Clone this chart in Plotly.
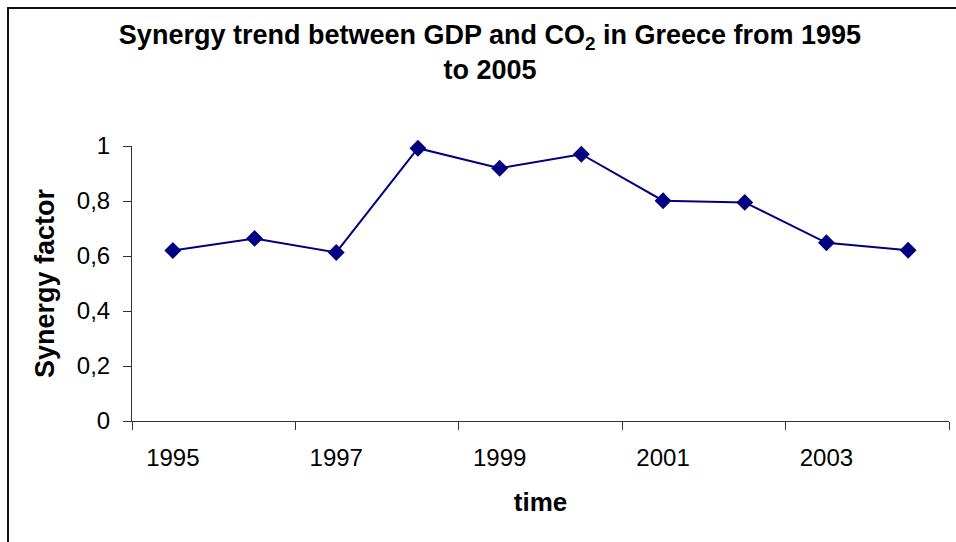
import plotly.graph_objects as go

# Synergy factor between GDP and CO2 emissions, Greece
years = ["1995", "1996", "1997", "1998", "1999", "2000", "2001", "2002", "2003", "2004"]
synergy = [0.62, 0.664, 0.613, 0.992, 0.919, 0.970, 0.801, 0.795, 0.648, 0.621]
year_labels = ["1995", "1997", "1999", "2001", "2003"]
y_ticks = [0, 0.2, 0.4, 0.6, 0.8, 1]
y_tick_text = ["0", "0,2", "0,4", "0,6", "0,8", "1"]

FONT = "Liberation Sans, Arial, sans-serif"
NAVY = "#000080"
AXIS = "#333333"

W, H = 956, 542
ML, MR, MT, MB = 132, 7, 146, 121
PW, PH = W - ML - MR, H - MT - MB

idx = list(range(len(years)))
label_pos = [years.index(y) for y in year_labels]
# category boundaries carrying tick marks, every second category
boundaries = [i - 0.5 for i in range(0, len(years) + 1, 2)]


def px_x(px):
    return (px - ML) / PW


def px_y(py):
    return (H - MB - py) / PH


fig = go.Figure()
fig.add_trace(go.Scatter(
    x=idx, y=synergy, mode="lines+markers",
    line=dict(color=NAVY, width=2),
    marker=dict(symbol="diamond", size=13, color=NAVY),
    hovertext=years, showlegend=False, cliponaxis=False,
))
# invisible trace that carries the year labels axis
fig.add_trace(go.Scatter(x=[idx[0], idx[-1]], y=[None, None], xaxis="x2",
                         showlegend=False, hoverinfo="skip"))

xr = [-0.5, len(years) - 0.5]
fig.update_layout(
    width=W, height=H,
    margin=dict(l=ML, r=MR, t=MT, b=MB),
    paper_bgcolor="white", plot_bgcolor="white",
    font=dict(family=FONT, color="black"),
    title=dict(
        text="<b>Synergy trend between GDP and CO<sub>2</sub> in Greece from 1995<br>to 2005</b>",
        x=490 / W, xanchor="center", y=1 - 44 / H, yanchor="middle",
        font=dict(size=27, family=FONT, color="black"),
    ),
    xaxis=dict(
        range=xr, tickmode="array", tickvals=boundaries, showticklabels=False,
        ticks="outside", ticklen=8, tickcolor=AXIS, tickwidth=1,
        showline=True, linecolor=AXIS, linewidth=1, showgrid=False, zeroline=False,
    ),
    xaxis2=dict(
        overlaying="x", side="bottom", range=xr, tickmode="array",
        tickvals=label_pos, ticktext=year_labels, ticks="", showline=False,
        showgrid=False, zeroline=False, ticklabelstandoff=20,
        tickfont=dict(size=24, family=FONT, color="black"),
        title=dict(text="<b>time</b>", font=dict(size=26, family=FONT), standoff=22),
    ),
    yaxis=dict(
        range=[0, 1], tickmode="array", tickvals=y_ticks, ticktext=y_tick_text,
        ticks="outside", ticklen=8, tickcolor=AXIS, tickwidth=1,
        showline=True, linecolor=AXIS, linewidth=1, showgrid=False, zeroline=False,
        tickfont=dict(size=24, family=FONT, color="black"), ticklabelstandoff=8,
        title=dict(text="<b>Synergy factor</b>", font=dict(size=27, family=FONT), standoff=14),
    ),
    shapes=[
        # chart-area frame: left and top edges
        dict(type="line", xref="paper", yref="paper",
             x0=px_x(8), x1=px_x(8), y0=px_y(H + 2), y1=px_y(7),
             line=dict(color="#111111", width=2), layer="above"),
        dict(type="line", xref="paper", yref="paper",
             x0=px_x(7), x1=px_x(W + 2), y0=px_y(8), y1=px_y(8),
             line=dict(color="#111111", width=2), layer="above"),
    ],
)

fig.write_html("out.html")
